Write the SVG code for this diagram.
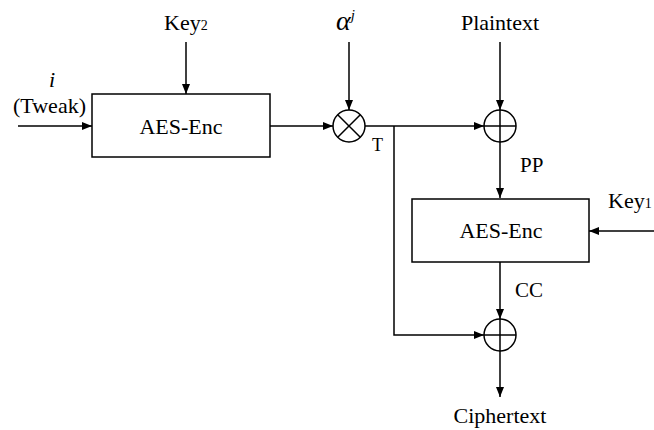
<svg xmlns="http://www.w3.org/2000/svg" width="654" height="430" viewBox="0 0 654 430" font-family="'Liberation Serif','DejaVu Serif','Times New Roman',serif">
<style>
text{font-family:"Liberation Serif","DejaVu Serif","Times New Roman",serif;font-size:22px;fill:#000}
.box{fill:#fff;stroke:#000;stroke-width:1.5}
.op{fill:#fff;stroke:#000;stroke-width:1.5}
.ln{fill:none;stroke:#000;stroke-width:1.5}
text.lab{font-size:21px}
text.t{font-size:18px}
text.alpha{font-size:28px;font-style:italic}
.sub{font-size:14px}
.sup{font-size:15px}
</style>
<defs>
<marker id="ah" viewBox="0 0 10 8" refX="10" refY="4" markerWidth="10" markerHeight="8" markerUnits="userSpaceOnUse" orient="auto">
<path d="M0,0 L10,4 L0,8 Z" fill="#000"/>
</marker>
</defs>
<rect width="654" height="430" fill="#fff"/>
<g id="connectors">
<line class="ln" x1="18" y1="126" x2="92" y2="126" marker-end="url(#ah)"/>
<line class="ln" x1="186" y1="42" x2="186" y2="94" marker-end="url(#ah)"/>
<line class="ln" x1="270" y1="126" x2="333" y2="126" marker-end="url(#ah)"/>
<line class="ln" x1="349" y1="42" x2="349" y2="110" marker-end="url(#ah)"/>
<line class="ln" x1="365" y1="126" x2="484" y2="126" marker-end="url(#ah)"/>
<line class="ln" x1="500" y1="42" x2="500" y2="110" marker-end="url(#ah)"/>
<line class="ln" x1="500" y1="142" x2="500" y2="198" marker-end="url(#ah)"/>
<line class="ln" x1="654" y1="231" x2="589" y2="231" marker-end="url(#ah)"/>
<line class="ln" x1="500" y1="262" x2="500" y2="319" marker-end="url(#ah)"/>
<polyline class="ln" points="394,126 394,335 484,335" marker-end="url(#ah)"/>
<line class="ln" x1="500" y1="351" x2="500" y2="397" marker-end="url(#ah)"/>
</g>
<g id="aes2">
<rect class="box" x="92" y="94" width="178" height="63"/>
<text x="181" y="134" text-anchor="middle">AES-Enc</text>
</g>
<g id="key2">
<text x="164" y="30">Key<tspan class="sub">2</tspan></text>
</g>
<g id="tweak">
<text x="49" y="87" style="font-style:italic">i</text>
<text x="13" y="113">(Tweak)</text>
</g>
<g id="mult">
<circle class="op" cx="349" cy="126" r="16"/>
<line class="ln" x1="337.7" y1="114.7" x2="360.3" y2="137.3"/>
<line class="ln" x1="360.3" y1="114.7" x2="337.7" y2="137.3"/>
</g>
<g id="alpha">
<text class="alpha" x="336" y="30">α<tspan class="sup" dy="-10">j</tspan></text>
</g>
<g id="tlabel">
<text class="t" x="372" y="151">T</text>
</g>
<g id="plaintext">
<text x="500" y="30" text-anchor="middle">Plaintext</text>
</g>
<g id="xor1">
<circle class="op" cx="500" cy="126" r="16"/>
<line class="ln" x1="484" y1="126" x2="516" y2="126"/>
<line class="ln" x1="500" y1="110" x2="500" y2="142"/>
</g>
<g id="pp">
<text class="lab" x="520" y="172">PP</text>
</g>
<g id="aes1">
<rect class="box" x="412" y="199" width="177" height="63"/>
<text x="501" y="238" text-anchor="middle">AES-Enc</text>
</g>
<g id="key1">
<text x="608" y="208">Key<tspan class="sub">1</tspan></text>
</g>
<g id="cc">
<text class="lab" x="515" y="297">CC</text>
</g>
<g id="xor2">
<circle class="op" cx="500" cy="335" r="16"/>
<line class="ln" x1="484" y1="335" x2="516" y2="335"/>
<line class="ln" x1="500" y1="319" x2="500" y2="351"/>
</g>
<g id="ciphertext">
<text x="500" y="423" text-anchor="middle">Ciphertext</text>
</g>
</svg>
